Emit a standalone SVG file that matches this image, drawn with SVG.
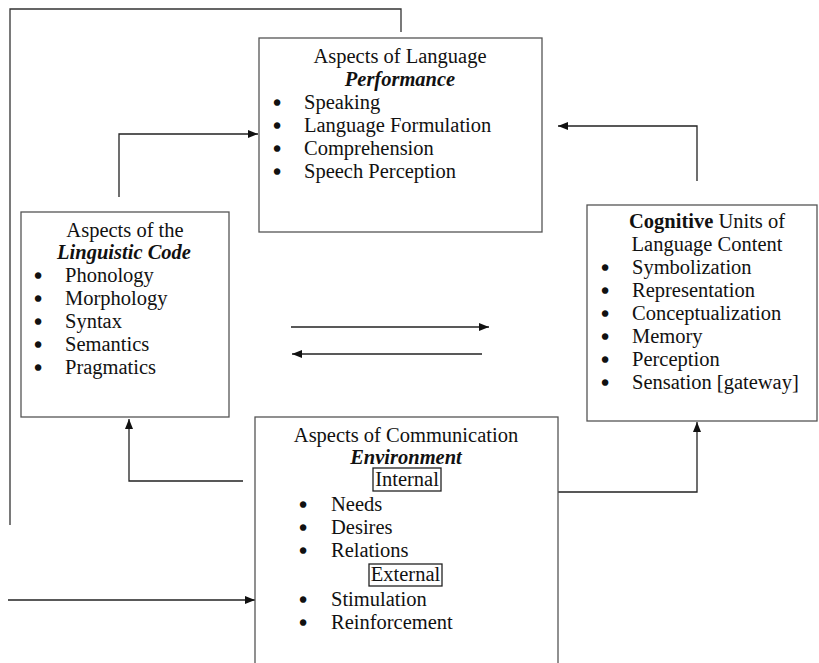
<svg xmlns="http://www.w3.org/2000/svg" width="819" height="663" viewBox="0 0 819 663">
<defs>
<marker id="ah" viewBox="0 0 10 10" refX="10" refY="5" markerWidth="10" markerHeight="10" markerUnits="userSpaceOnUse" orient="auto">
<path d="M0,1 L10,5 L0,9 Z" fill="#111"/>
</marker>
<style>
text{font-family:"Liberation Serif","Times New Roman",serif;font-size:20.5px;fill:#111}
.c{text-anchor:middle}
.bi{font-weight:bold;font-style:italic}
.b{font-weight:bold}
.u{stroke:#111;stroke-width:1.6}
.box{fill:#fff;stroke:#555;stroke-width:1.3}
.tag{fill:none;stroke:#222;stroke-width:1.3}
.ln{fill:none;stroke:#333;stroke-width:1.3}
.ar{fill:none;stroke:#222;stroke-width:1.3;marker-end:url(#ah)}
</style>
</defs>
<g id="connectors">
<polyline class="ln" points="10,525 10,9 401,9 401,32"/>
<polyline class="ar" points="119,197 119,134 258,134"/>
<polyline class="ar" points="697,181 697,126 558,126"/>
<polyline class="ar" points="558,492 697,492 697,422"/>
<polyline class="ar" points="243,481 129,481 129,419"/>
<line class="ar" x1="8" y1="600" x2="255" y2="600"/>
<line class="ar" x1="291" y1="327" x2="489" y2="327"/>
<line class="ar" x1="482" y1="354" x2="292" y2="354"/>
</g>
<g id="performance">
<rect class="box" x="259" y="38" width="283" height="194"/>
<text class="c" x="400" y="63">Aspects of Language</text>
<text class="c bi" x="400" y="86">Performance</text>
<text class="u" x="273.4" y="110">•</text><text x="304" y="109">Speaking</text>
<text class="u" x="273.4" y="133">•</text><text x="304" y="132">Language Formulation</text>
<text class="u" x="273.4" y="156">•</text><text x="304" y="155">Comprehension</text>
<text class="u" x="273.4" y="179">•</text><text x="304" y="178">Speech Perception</text>
</g>
<g id="linguistic-code">
<rect class="box" x="21" y="212" width="208" height="205"/>
<text class="c" x="125" y="237">Aspects of the</text>
<text class="c bi" x="124" y="259">Linguistic Code</text>
<text class="u" x="34.4" y="283">•</text><text x="65" y="282">Phonology</text>
<text class="u" x="34.4" y="306">•</text><text x="65" y="305">Morphology</text>
<text class="u" x="34.4" y="329">•</text><text x="65" y="328">Syntax</text>
<text class="u" x="34.4" y="352">•</text><text x="65" y="351">Semantics</text>
<text class="u" x="34.4" y="375">•</text><text x="65" y="374">Pragmatics</text>
</g>
<g id="cognitive">
<rect class="box" x="587" y="205" width="230" height="216"/>
<text class="c" x="707" y="228"><tspan class="b">Cognitive</tspan> Units of</text>
<text class="c" x="707" y="251">Language Content</text>
<text class="u" x="601.4" y="275">•</text><text x="632" y="274">Symbolization</text>
<text class="u" x="601.4" y="298">•</text><text x="632" y="297">Representation</text>
<text class="u" x="601.4" y="321">•</text><text x="632" y="320">Conceptualization</text>
<text class="u" x="601.4" y="344">•</text><text x="632" y="343">Memory</text>
<text class="u" x="601.4" y="367">•</text><text x="632" y="366">Perception</text>
<text class="u" x="601.4" y="390">•</text><text x="632" y="389">Sensation [gateway]</text>
</g>
<g id="environment">
<rect class="box" x="255" y="417" width="303" height="260"/>
<text class="c" x="406" y="442">Aspects of Communication</text>
<text class="c bi" x="406" y="464">Environment</text>
<rect class="tag" x="373" y="468" width="68" height="23"/>
<text class="c" x="407" y="486">Internal</text>
<text class="u" x="299.4" y="512">•</text><text x="331" y="511">Needs</text>
<text class="u" x="299.4" y="535">•</text><text x="331" y="534">Desires</text>
<text class="u" x="299.4" y="558">•</text><text x="331" y="557">Relations</text>
<rect class="tag" x="369" y="564" width="73" height="22"/>
<text class="c" x="405.5" y="581">External</text>
<text class="u" x="299.4" y="607">•</text><text x="331" y="606">Stimulation</text>
<text class="u" x="299.4" y="630">•</text><text x="331" y="629">Reinforcement</text>
</g>
</svg>
